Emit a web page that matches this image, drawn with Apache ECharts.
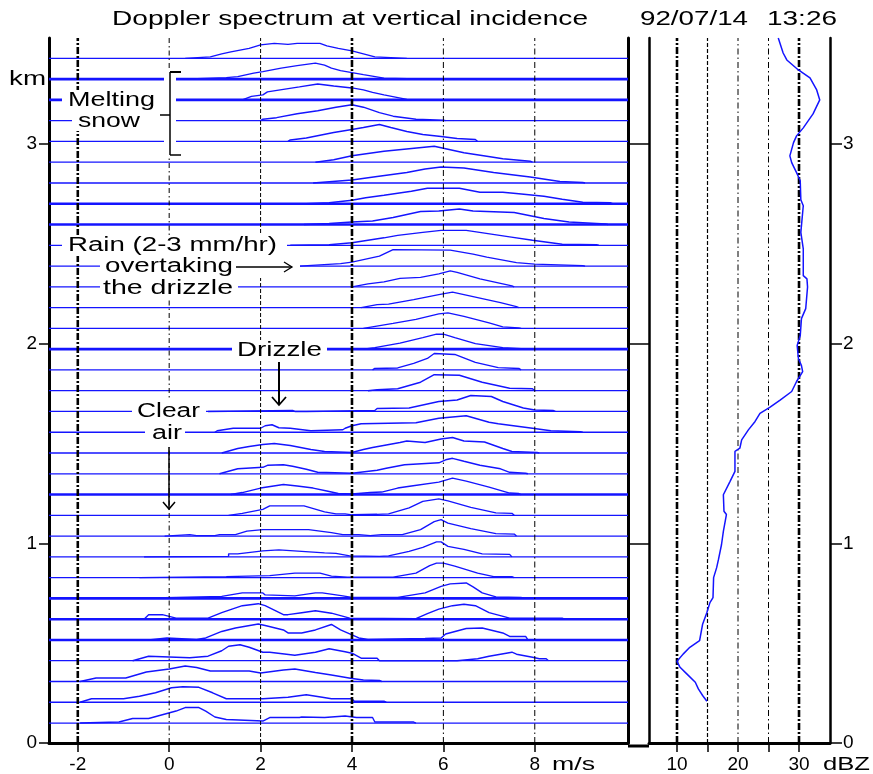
<!DOCTYPE html>
<html><head><meta charset="utf-8">
<script src="https://cdn.jsdelivr.net/npm/echarts@6/dist/echarts.min.js"></script>
<style>html,body{margin:0;padding:0;background:#fff}#c{width:873px;height:774px}</style>
</head><body><div id="c"></div>
<script>
// ---------- DATA ----------
// range-gate heights (km), bottom to top
const heights = [0.100,0.204,0.308,0.412,0.516,0.620,0.724,0.828,0.932,1.036,1.140,1.244,1.348,1.452,1.556,1.660,1.764,1.868,1.972,2.076,2.180,2.284,2.388,2.492,2.596,2.700,2.804,2.908,3.012,3.116,3.220,3.324,3.428];
// Doppler spectra: [velocity m/s, spectral level above noise]
const spec00 = [[-1.95,0],[-1.95,1],[-1.1,1],[-0.8,4.5],[-0.45,4.5],[-0.05,9.5],[0.15,12],[0.35,15.5],[0.65,15.5],[0.8,12],[1.0,6],[1.25,3.5],[2.05,2],[2.2,5.5],[2.85,5.5],[2.9,6],[3.4,5.5],[3.85,7],[4.1,5.5],[4.45,5.5],[4.5,1],[5.35,1],[5.4,0]];
const spec01 = [[-1.95,0],[-1.95,1],[-1.7,3.5],[-1.0,3.5],[-0.65,6],[-0.3,9.5],[0.05,14.5],[0.3,15.5],[0.65,15],[0.95,9.5],[1.25,3.5],[2.05,3.5],[2.6,5],[3.0,7.5],[3.35,5],[3.55,3.5],[4.0,3.5],[4.05,1],[4.7,1],[4.75,0]];
const spec02 = [[-1.95,0],[-1.95,1],[-1.6,3.5],[-0.95,3.5],[-0.5,9.5],[0.0,12.5],[0.35,15.5],[0.6,14],[0.9,10.5],[1.75,10.5],[2.0,8.5],[2.5,11.5],[2.75,12.5],[3.2,9],[3.55,6.5],[4.0,3],[4.25,1.5],[4.6,1],[4.65,0]];
const spec03 = [[-0.8,0],[-0.8,1.5],[-0.45,4.5],[0.45,3],[0.85,4.5],[1.15,10],[1.3,14.5],[1.55,16],[1.75,13.5],[2.05,8.5],[2.2,8.5],[2.75,5.5],[3.2,8.5],[3.5,12],[3.85,9],[4.0,7.5],[4.2,2.5],[4.55,2.5],[4.6,0],[6.3,0],[6.3,2],[6.75,2],[7.0,4.5],[7.5,8.5],[7.6,6.5],[7.95,3.5],[8.1,2],[8.25,2],[8.3,0]];
const spec04 = [[-0.45,0],[-0.45,2],[-0.05,2],[0.6,0.5],[0.8,2],[1.15,8.5],[1.45,12],[1.95,16],[2.1,14.5],[2.5,10],[2.6,7],[2.9,7],[3.2,10],[3.55,15.5],[3.75,10],[4.0,5],[4.15,2],[4.35,0.5],[5.6,1.5],[5.95,2],[6.05,6],[6.5,11.5],[6.85,12],[7.3,7],[7.45,3.5],[7.8,3.5],[7.85,0]];
const spec05 = [[-0.55,0],[-0.45,4.5],[-0.15,4.5],[0.15,1],[0.85,1],[1.15,6.5],[1.6,13.5],[1.95,15.5],[2.1,13.5],[2.5,4.5],[2.6,4.5],[2.9,6.5],[3.2,8.5],[3.55,6],[3.75,3.5],[3.95,1],[5.4,0.5],[5.65,5.5],[5.9,10],[6.2,13.5],[6.45,15],[6.7,13.5],[7.0,6.5],[7.45,1],[8.6,1],[8.65,0]];
const spec06 = [[-0.85,0],[-0.85,0.5],[1.15,2],[1.6,5.5],[2.05,5.5],[2.1,3.5],[2.75,2.5],[3.2,5.5],[3.35,5.5],[3.8,2.5],[4.0,1],[5.0,1],[5.6,5.5],[5.95,12],[6.15,14.5],[6.5,15.5],[6.65,11.5],[6.85,5.5],[7.15,1.5],[7.7,1],[7.75,0]];
const spec07 = [[-0.65,0],[1.25,1],[2.2,2],[2.75,4.5],[3.3,4.5],[3.55,1.5],[3.9,0.5],[4.9,0.5],[5.4,4.5],[5.7,12],[5.85,14.5],[6.0,14.5],[6.25,11.5],[6.75,4.5],[7.1,1],[7.5,1],[7.55,0]];
const spec08 = [[-0.55,0],[-0.55,0.5],[1.3,0.5],[1.3,3],[1.5,3],[2.05,6],[2.4,7],[3.4,4],[3.65,3.5],[3.95,1],[4.6,0.5],[4.8,1],[5.25,5.5],[5.55,9.5],[5.85,15],[5.95,15],[6.1,10.5],[6.45,7.5],[6.85,3],[7.45,2.5],[7.5,0]];
const spec09 = [[-0.1,0],[-0.1,1.5],[0.45,1.5],[0.6,0.5],[1.0,0.5],[1.1,1.5],[1.45,1.5],[1.7,5],[2.05,6.5],[3.05,6.5],[3.55,3.5],[3.8,1.5],[4.15,1.5],[4.4,0.5],[4.65,1.5],[5.1,1.5],[5.5,6.5],[5.8,14.5],[5.95,16.5],[6.1,13],[6.6,7.5],[7.15,2.5],[7.55,2],[7.6,0]];
const spec10 = [[1.3,0],[1.3,1.5],[1.6,2],[2.05,6],[2.2,9.5],[2.95,9.5],[3.4,3.5],[3.65,1.5],[3.85,1.5],[4.0,0.5],[4.55,1],[4.8,1.5],[5.25,7.5],[5.55,14],[5.9,16.5],[6.1,14.5],[6.6,8],[7.15,2.5],[7.5,2],[7.55,0]];
const spec11 = [[1.35,0],[1.35,1.5],[1.6,2],[2.0,6.5],[2.5,10],[2.8,8.5],[3.15,6.5],[3.45,3.5],[3.7,1],[4.0,0.5],[4.4,2],[4.65,2.5],[5.0,6.5],[5.3,8.5],[5.9,12.5],[6.2,16.5],[6.5,13.5],[7.0,7.5],[7.3,3.5],[7.45,1.5],[7.65,1],[7.7,0]];
const spec12 = [[1.1,0],[1.1,1.5],[1.5,5],[2.05,6.5],[2.15,8.5],[2.5,9],[2.7,7.5],[3.0,4.5],[3.25,1.5],[4.0,0.5],[4.55,3.5],[4.75,5.5],[5.15,9],[5.9,11],[6.05,14],[6.2,15.5],[6.45,12.5],[6.8,8.5],[7.25,5],[7.45,1.5],[7.8,0.5],[7.85,0]];
const spec13 = [[1.15,0],[1.15,1.5],[1.5,4.5],[1.75,6.5],[2.05,8.5],[2.3,9.5],[2.65,7.5],[3.1,3.5],[3.4,1.5],[4.0,0.5],[4.25,3.5],[4.45,5.5],[5.05,10.5],[5.2,12],[5.6,10.5],[5.95,14],[6.2,15.5],[6.45,12],[6.9,11],[7.3,4.5],[7.5,1.5],[8.05,0.5],[8.1,0]];
const spec14 = [[1.0,0],[1.05,1.5],[1.4,4],[2.0,4],[2.1,6.5],[2.25,7.5],[2.4,4.5],[2.65,4],[3.1,1.5],[3.8,2.5],[3.85,4],[4.0,6.5],[4.2,8.5],[5.4,9.5],[5.9,14],[6.5,16.5],[7.0,10],[7.2,8.5],[7.95,4],[8.35,1.5],[9.0,0.5],[9.05,0]];
const spec15 = [[0.85,0],[0.85,1],[2.7,1],[2.75,0],[3.0,0],[3.0,1],[4.5,1],[4.55,3],[5.25,3.5],[5.9,10],[6.3,11.5],[6.6,16],[7.05,15],[7.3,10],[7.75,3.5],[8.0,1.5],[8.4,1],[8.45,0]];
const spec16 = [[4.35,0],[4.55,1],[5.0,2],[5.5,8.5],[5.8,16],[6.35,15.5],[6.85,8.5],[7.45,2.5],[7.95,2],[8.0,0]];
const spec17 = [[4.45,0],[4.5,1.5],[5.0,2],[5.35,6.5],[5.65,11.5],[5.8,16.5],[6.25,15.5],[6.7,7.5],[7.2,2.3],[7.65,1.5],[7.7,0]];
const spec18 = [[4.25,0],[4.5,1.5],[5.05,6],[5.55,11.5],[5.85,15],[6.0,15],[6.25,11.5],[6.7,5.5],[7.3,1.5],[7.7,0.5],[7.75,0]];
const spec19 = [[4.25,0],[4.9,5],[5.4,9],[5.9,14.5],[6.1,15.5],[6.45,12],[7.0,5.5],[7.3,1.5],[7.65,0.5],[7.7,0]];
const spec20 = [[4.2,0],[4.55,3],[4.8,3.5],[5.35,8],[5.9,13],[6.2,15.5],[6.65,11],[7.25,5],[7.6,1],[7.65,0]];
const spec21 = [[4.0,0],[4.0,2],[4.35,3],[4.7,5],[5.05,8.5],[5.5,9.5],[5.9,13],[6.15,16],[6.3,14.5],[6.8,8],[7.3,3],[7.5,1],[7.55,0]];
const spec22 = [[2.85,0],[3.75,2.5],[4.0,4],[4.6,10],[4.9,16.5],[6.15,16],[6.65,12],[6.95,9],[7.6,3.5],[8.0,2],[9.05,0.5],[9.1,0]];
const spec23 = [[2.65,0],[3.5,0.5],[4.0,2.5],[4.7,7.5],[5.0,10],[5.55,13],[5.95,15],[6.5,15],[7.45,8.5],[7.95,5],[8.6,1],[9.35,0.5],[9.4,0]];
const spec24 = [[2.95,0],[3.5,1],[4.0,2.5],[4.45,3.5],[4.9,7],[5.5,13],[5.9,13.5],[6.35,15.5],[6.65,13.5],[7.55,12],[8.2,6],[8.75,2.5],[9.55,0.5],[9.6,0]];
const spec25 = [[3.0,0],[3.5,1],[4.0,3.5],[4.3,6],[4.7,8.5],[5.3,12.5],[5.65,15.5],[6.35,15.5],[6.8,11.5],[7.3,11.5],[7.65,10],[8.2,7.5],[8.6,4.5],[9.05,1.5],[9.65,1],[9.7,0]];
const spec26 = [[3.15,0],[4.0,3],[4.55,6.5],[5.2,10.5],[5.6,14],[5.95,16],[6.45,15],[7.1,10.5],[7.9,6],[8.55,1.5],[9.05,0.5],[9.1,0]];
const spec27 = [[3.2,0],[3.6,2.5],[4.0,6.5],[4.7,11],[5.25,13.5],[5.8,16],[6.0,14],[6.45,9.5],[6.95,6],[7.3,3.5],[7.9,1],[7.95,0]];
const spec28 = [[2.6,0],[2.65,1.5],[3.0,3.5],[3.6,9],[4.0,12],[4.25,14],[4.6,17],[4.85,14],[5.2,10],[5.55,7],[5.95,5],[6.3,3],[6.7,2],[6.75,0]];
const spec29 = [[2.0,0],[2.05,1.5],[2.35,3],[2.8,7],[3.25,10],[3.65,13.5],[4.0,16],[4.25,13.5],[4.6,8],[4.9,4.5],[5.4,1.5],[6.0,0.5],[6.05,0]];
const spec30 = [[1.6,0],[1.8,3.5],[2.05,5],[2.15,8],[2.5,10.5],[2.85,13],[3.25,16],[3.6,14],[4.0,12],[4.25,10],[4.45,7.5],[4.7,5],[5.2,0.5],[5.3,0]];
const spec31 = [[0.3,0],[1.25,1.5],[1.5,2.5],[1.85,6],[2.05,7.5],[2.45,11],[2.8,13.5],[3.2,16],[3.4,14],[3.55,11],[3.75,8.5],[4.0,6.5],[4.25,4.5],[4.7,1],[5.7,0]];
const spec32 = [[0.35,0],[0.9,1.5],[1.15,4.5],[1.35,6.5],[1.75,10],[2.0,13.5],[2.3,15],[2.6,14],[2.8,15],[3.3,15],[3.45,12.5],[3.7,10],[4.0,7.5],[4.25,4.5],[4.5,1.5],[5.2,0]];
const spectra = [spec00,spec01,spec02,spec03,spec04,spec05,spec06,spec07,spec08,spec09,spec10,spec11,spec12,spec13,spec14,spec15,spec16,spec17,spec18,spec19,spec20,spec21,spec22,spec23,spec24,spec25,spec26,spec27,spec28,spec29,spec30,spec31,spec32];

// reflectivity profile
const reflHeight = [3.53,3.455,3.42,3.37,3.33,3.27,3.22,3.15,3.08,3.04,3.006,2.94,2.906,2.856,2.815,2.72,2.69,2.557,2.474,2.34,2.324,2.283,2.175,2.125,2.04,1.99,1.925,1.89,1.86,1.81,1.76,1.717,1.68,1.65,1.61,1.568,1.518,1.476,1.46,1.36,1.31,1.243,1.16,1.144,1.06,0.994,0.919,0.878,0.828,0.728,0.703,0.653,0.595,0.512,0.479,0.445,0.409,0.379,0.346,0.304,0.271,0.238,0.209];
const reflDbz = [26.6,27.4,28.0,29.9,31.8,32.9,33.4,32.3,30.7,29.6,29.1,28.5,28.8,29.6,30.2,30.3,30.7,30.3,30.7,30.7,31.3,31.4,31.1,30.4,30.2,29.7,29.9,30.4,30.6,29.6,28.8,26.9,25.2,23.6,22.8,21.7,20.6,20.3,19.5,19.5,18.7,17.6,17.7,18.1,17.6,17.3,16.8,16.5,16.0,15.9,15.4,14.9,14.2,13.7,12.1,11.0,10.0,10.5,11.6,13.0,13.5,14.2,14.9];

const velTicks = [-2,0,2,4,6,8];
const dbzTicks = [10,15,20,25,30];
const dbzLabels = [10,20,30];
const kmTicks = [0,1,2,3];
const kmInnerTicks = [1,2,3];

// ---------- STYLE / LAYOUT ----------
const Y_MAX = 3.53, V_MIN = -2.63, V_MAX = 10.04, Z_MIN = 5.41, Z_MAX = 35.08;
const AMP = 0.005;          // km per spectral unit
const BLUE = '#1414ff';
const thickBase = [4,5,6,11,18,24,25,30,31];
const THICK = {width:2.6, type:[7,2,2,2]};
const gridStyle = {
  '-2':THICK, '0':{width:1,type:[5,3,1.5,3]}, '2':{width:1,type:[4,2]}, '4':THICK,
  '6':{width:1,type:[6,3,1.5,3]}, '8':{width:1,type:[6,3,1.5,3]},
  '10':THICK, '15':{width:1.2,type:[4,2]}, '20':{width:1,type:[6,3,1.5,3]}, '25':{width:1,type:[6,3,1.5,3]}, '30':THICK
};
const FONT = 'Liberation Sans';

const chart = echarts.init(document.getElementById('c'));
const series = [];
heights.forEach((h,i)=>{
  series.push({type:'line', xAxisIndex:0, yAxisIndex:0, data:[[V_MIN,h],[V_MAX,h]], symbol:'none', silent:true,
    lineStyle:{color:BLUE, width: thickBase.includes(i)?2.6:1.3}, z:2});
  series.push({type:'line', xAxisIndex:0, yAxisIndex:0, data:spectra[i].map(p=>[p[0], h+p[1]*AMP]), symbol:'none', silent:true,
    lineStyle:{color:BLUE, width:1.4}, z:3});
});
velTicks.forEach(v=>{
  const s = gridStyle[String(v)];
  series.push({type:'line', xAxisIndex:0, yAxisIndex:0, data:[[v,0],[v,Y_MAX]], symbol:'none', silent:true,
    lineStyle:{color:'#000', width:s.width, type:s.type}, z:5});
});
dbzTicks.forEach(v=>{
  const s = gridStyle[String(v)];
  series.push({type:'line', xAxisIndex:1, yAxisIndex:2, data:[[v,0],[v,Y_MAX]], symbol:'none', silent:true,
    lineStyle:{color:'#000', width:s.width, type:s.type}, z:5});
});
series.push({type:'line', xAxisIndex:1, yAxisIndex:2, data:reflDbz.map((z,i)=>[z, reflHeight[i]]), symbol:'none', silent:true,
  lineStyle:{color:BLUE, width:1.5}, z:6});

const axisBlack = w => ({show:true, onZero:false, lineStyle:{color:'#000', width:w}});
const lbl = {color:'#000', fontSize:19, fontFamily:FONT};

// stretched text helper (original lettering is widely spaced)
const ctx = document.createElement('canvas').getContext('2d');
function stext(text, x0, x1, yc, size){
  ctx.font = size + 'px "' + FONT + '"';
  const w = ctx.measureText(text).width;
  return {type:'text', x:x0, y:yc, scaleX:(x1-x0)/w, z:102, silent:true,
    style:{text:text, fontSize:size, fontFamily:FONT, fill:'#000', align:'left', verticalAlign:'middle'}};
}
const rect = (x0,y0,x1,y1) => ({type:'rect', shape:{x:x0,y:y0,width:x1-x0,height:y1-y0}, style:{fill:'#fff'}, z:100, silent:true});
const seg = (x1,y1,x2,y2,w) => ({type:'line', shape:{x1,y1,x2,y2}, style:{stroke:'#000', lineWidth:w||1.5}, z:103, silent:true});
const pl = (pts,w) => ({type:'polyline', shape:{points:pts}, style:{stroke:'#000', fill:null, lineWidth:w||1.5}, z:103, silent:true});

const graphics = [
  // white boxes behind annotations
  rect(62,90,172,111), rect(72,112,172,131), rect(164,70,176,158),
  rect(62,235,287,256), rect(100,256,300,278), rect(100,278,238,298),
  rect(232,340,327,360), rect(132,398,206,423), rect(145,423,185,447),
  // texts
  stext('Doppler spectrum at vertical incidence', 112, 588, 19, 20),
  stext('92/07/14', 640, 748, 19, 20),
  stext('13:26', 767, 837, 19, 20),
  stext('km', 9, 46, 79, 20),
  stext('Melting', 68, 155, 100.5, 20),
  stext('snow', 78, 140, 121, 20),
  stext('Rain (2-3 mm/hr)', 68, 277, 245, 20),
  stext('overtaking', 105, 233, 266.5, 20),
  stext('the drizzle', 103, 233, 288, 20),
  stext('Drizzle', 237, 322, 350, 20),
  stext('Clear', 137, 200, 411, 20),
  stext('air', 152, 182, 433, 20),
  stext('m/s', 552, 595, 765, 19),
  stext('dBZ', 823, 870, 765, 19),
  // bracket for melting snow
  seg(170,72,170,155,1.5), seg(170,72,181,72,2), seg(170,155,181,155,1.5), seg(160,115,170,115,1.5),
  // arrows
  seg(236,267,292,267,1.3), pl([[284,262],[292,267],[284,272]],1.3),
  seg(279,362,279,405,2), pl([[272,397],[279,405],[286,397]],1.8),
  seg(169,447,169,509,1.5), pl([[163,502],[169,509],[175,502]],1.5),
  // bottom line between the panels
  seg(628,746,649,746,3)
];

chart.setOption({
  animation:false,
  backgroundColor:'#fff',
  grid:[{left:49, right:245, top:38, bottom:28},{left:649, right:43, top:38, bottom:28}],
  xAxis:[
    {gridIndex:0, type:'value', min:V_MIN, max:V_MAX, axisLine:axisBlack(3), splitLine:{show:false},
     axisTick:{customValues:velTicks, length:9, lineStyle:{color:'#000', width:1.5}},
     axisLabel:Object.assign({customValues:velTicks, margin:12}, lbl)},
    {gridIndex:1, type:'value', min:Z_MIN, max:Z_MAX, axisLine:axisBlack(3), splitLine:{show:false},
     axisTick:{customValues:dbzTicks, length:9, lineStyle:{color:'#000', width:1.5}},
     axisLabel:Object.assign({customValues:dbzLabels, margin:12}, lbl)}
  ],
  yAxis:[
    {gridIndex:0, type:'value', min:0, max:Y_MAX, position:'left', axisLine:axisBlack(3), splitLine:{show:false},
     axisTick:{customValues:kmTicks, length:10, lineStyle:{color:'#000', width:1.5}},
     axisLabel:Object.assign({customValues:kmTicks, margin:12}, lbl)},
    {gridIndex:0, type:'value', min:0, max:Y_MAX, position:'right', axisLine:axisBlack(3), splitLine:{show:false},
     axisTick:{show:false}, axisLabel:{show:false}},
    {gridIndex:1, type:'value', min:0, max:Y_MAX, position:'left', axisLine:axisBlack(2.5), splitLine:{show:false},
     axisTick:{customValues:kmInnerTicks, length:20, lineStyle:{color:'#000', width:1.5}}, axisLabel:{show:false}},
    {gridIndex:1, type:'value', min:0, max:Y_MAX, position:'right', axisLine:axisBlack(2.5), splitLine:{show:false},
     axisTick:{customValues:kmTicks, length:12, lineStyle:{color:'#000', width:1.5}},
     axisLabel:Object.assign({customValues:kmTicks, margin:13}, lbl)}
  ],
  series:series,
  graphic:{elements:graphics}
});
</script></body></html>
